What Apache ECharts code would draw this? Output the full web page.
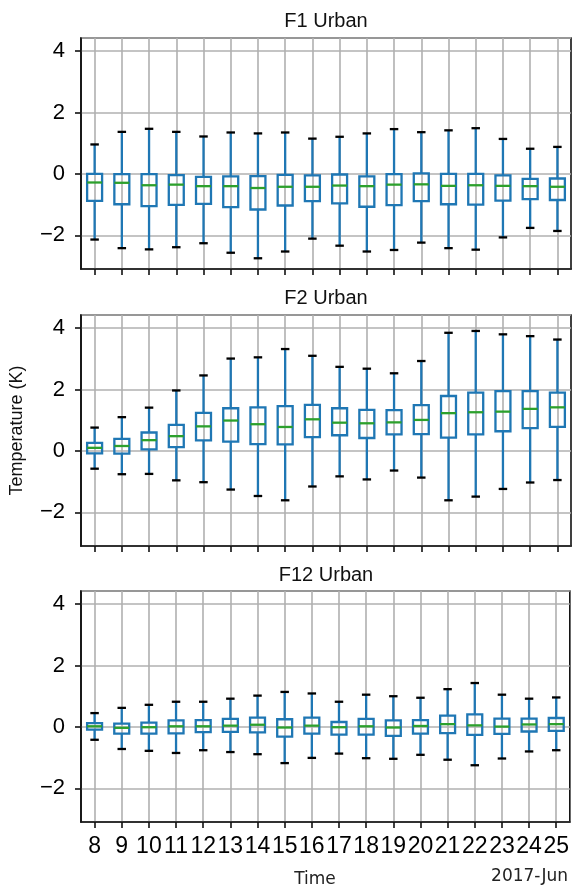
<!DOCTYPE html>
<html>
<head>
<meta charset="utf-8">
<script src="https://cdn.jsdelivr.net/npm/echarts@6/dist/echarts.min.js"></script>
<style>
  html, body { margin: 0; padding: 0; background: #fff; }
  #chart { width: 572px; height: 889px; }
</style>
</head>
<body>
<div id="chart"></div>
<script>
// Hours of the day (2017-Jun)
const hours = ['8', '9', '10', '11', '12', '13', '14', '15', '16', '17', '18', '19', '20', '21', '22', '23', '24', '25'];
const yTicks = [-2, 0, 2, 4];

// F1 Urban: whisker ends, quartiles and medians (K)
const f1Min    = [-2.14, -2.42, -2.46, -2.39, -2.26, -2.57, -2.75, -2.53, -2.11, -2.34, -2.53, -2.48, -2.24, -2.42, -2.47, -2.07, -1.76, -1.86];
const f1Q1     = [-0.88, -0.99, -1.05, -1.01, -0.98, -1.08, -1.16, -1.03, -0.89, -0.96, -1.07, -1.02, -0.89, -0.99, -1.00, -0.87, -0.82, -0.85];
const f1Median = [-0.28, -0.29, -0.37, -0.35, -0.40, -0.40, -0.46, -0.42, -0.42, -0.38, -0.40, -0.35, -0.34, -0.39, -0.37, -0.39, -0.40, -0.42];
const f1Q3     = [ 0.00, -0.01, -0.01, -0.04, -0.10, -0.08, -0.07, -0.03, -0.05, -0.02, -0.08, -0.01,  0.02,  0.00,  0.00, -0.05, -0.16, -0.15];
const f1Max    = [ 0.96,  1.37,  1.47,  1.37,  1.22,  1.35,  1.32,  1.35,  1.15,  1.21,  1.32,  1.46,  1.36,  1.42,  1.49,  1.14,  0.82,  0.88];

// F2 Urban
const f2Min    = [-0.58, -0.76, -0.75, -0.96, -1.02, -1.26, -1.47, -1.61, -1.16, -0.83, -0.93, -0.64, -0.87, -1.61, -1.49, -1.24, -1.03, -0.95];
const f2Q1     = [-0.08, -0.09,  0.05,  0.12,  0.34,  0.30,  0.22,  0.21,  0.45,  0.51,  0.42,  0.54,  0.55,  0.43,  0.54,  0.64,  0.74,  0.78];
const f2Median = [ 0.10,  0.16,  0.35,  0.48,  0.80,  0.99,  0.87,  0.78,  1.03,  0.92,  0.90,  0.93,  1.01,  1.23,  1.26,  1.28,  1.37,  1.42];
const f2Q3     = [ 0.26,  0.39,  0.60,  0.85,  1.24,  1.39,  1.42,  1.46,  1.50,  1.39,  1.34,  1.33,  1.49,  1.79,  1.90,  1.95,  1.95,  1.90];
const f2Max    = [ 0.76,  1.10,  1.41,  1.97,  2.46,  3.01,  3.05,  3.32,  3.10,  2.74,  2.68,  2.53,  2.93,  3.85,  3.91,  3.80,  3.74,  3.63];

// F12 Urban
const f12Min    = [-0.42, -0.72, -0.78, -0.85, -0.76, -0.82, -0.89, -1.18, -1.01, -0.87, -1.02, -1.04, -0.91, -1.07, -1.25, -1.03, -0.80, -0.76];
const f12Q1     = [-0.09, -0.22, -0.22, -0.21, -0.17, -0.16, -0.18, -0.32, -0.22, -0.25, -0.25, -0.29, -0.22, -0.20, -0.26, -0.23, -0.15, -0.13];
const f12Median = [ 0.02, -0.03, -0.01,  0.02,  0.02,  0.04,  0.07, -0.02,  0.04, -0.01,  0.02, -0.02,  0.03,  0.09,  0.05,  0.01,  0.08,  0.09];
const f12Q3     = [ 0.12,  0.11,  0.14,  0.21,  0.22,  0.26,  0.30,  0.25,  0.30,  0.16,  0.26,  0.21,  0.22,  0.37,  0.41,  0.27,  0.27,  0.29];
const f12Max    = [ 0.45,  0.62,  0.72,  0.82,  0.82,  0.92,  1.02,  1.14,  1.09,  0.82,  1.05,  1.00,  0.95,  1.23,  1.43,  1.05,  0.92,  0.96];

const panels = [
  { title: 'F1 Urban',  min: f1Min,  q1: f1Q1,  med: f1Median,  q3: f1Q3,  max: f1Max,  top: 38,  titleY: 21 },
  { title: 'F2 Urban',  min: f2Min,  q1: f2Q1,  med: f2Median,  q3: f2Q3,  max: f2Max,  top: 315, titleY: 298 },
  { title: 'F12 Urban', min: f12Min, q1: f12Q1, med: f12Median, q3: f12Q3, max: f12Max, top: 591, titleY: 575 }
];

const BLUE = '#1f77b4';
const GREEN = '#2ca02c';
const GRIDC = '#b0b0b0';
const SANS = 'Liberation Sans';
const DEJAVU = 'DejaVu Sans';

function fmtTick(v) {
  if (yTicks.indexOf(v) < 0) return '';
  return v < 0 ? '\u2212' + Math.abs(v) : String(v);
}

// One box: whiskers, caps, box outline and median line
function renderBox(params, api) {
  const i = api.value(0);
  const lo = api.coord([i, api.value(1)]);
  const q1 = api.coord([i, api.value(2)]);
  const md = api.coord([i, api.value(3)]);
  const q3 = api.coord([i, api.value(4)]);
  const hi = api.coord([i, api.value(5)]);
  const band = api.size([1, 0])[0];
  const bw = band * 0.55;
  const cw = bw / 2;
  const cx = lo[0];
  const lw = 2.3;
  return {
    type: 'group',
    children: [
      { type: 'line', shape: { x1: cx, y1: hi[1], x2: cx, y2: q3[1] }, style: { stroke: BLUE, lineWidth: lw } },
      { type: 'line', shape: { x1: cx, y1: q1[1], x2: cx, y2: lo[1] }, style: { stroke: BLUE, lineWidth: lw } },
      { type: 'line', shape: { x1: cx - cw / 2 - 0.5, y1: hi[1], x2: cx + cw / 2 + 0.5, y2: hi[1] }, style: { stroke: '#000', lineWidth: lw } },
      { type: 'line', shape: { x1: cx - cw / 2 - 0.5, y1: lo[1], x2: cx + cw / 2 + 0.5, y2: lo[1] }, style: { stroke: '#000', lineWidth: lw } },
      { type: 'rect', shape: { x: cx - bw / 2, y: q3[1], width: bw, height: q1[1] - q3[1] }, style: { fill: 'none', stroke: BLUE, lineWidth: lw } },
      { type: 'line', shape: { x1: cx - bw / 2, y1: md[1], x2: cx + bw / 2, y2: md[1] }, style: { stroke: GREEN, lineWidth: lw } }
    ]
  };
}

const grids = [], xAxes = [], yAxes = [], series = [], graphics = [];
panels.forEach((p, k) => {
  const last = k === panels.length - 1;
  grids.push({ left: 81, right: 1, top: p.top, height: 231, show: true, borderColor: '#111', borderWidth: 1.6, backgroundColor: 'transparent' });
  xAxes.push({
    gridIndex: k, type: 'category', data: hours, boundaryGap: true,
    axisLine: { show: true, onZero: false, lineStyle: { color: '#111', width: 1.6 } },
    axisTick: { show: true, alignWithLabel: true, length: 6, lineStyle: { color: '#111', width: 1.6 } },
    axisLabel: { show: last, interval: 0, margin: 13, color: '#000', fontSize: 23, fontFamily: SANS },
    splitLine: { show: true, alignWithLabel: true, lineStyle: { color: GRIDC, width: 1.6 } }
  });
  yAxes.push({
    gridIndex: k, type: 'value', min: -3.1, max: 4.43, splitNumber: 4,
    name: k === 1 ? 'Temperature (K)' : '', nameLocation: 'middle', nameGap: 55,
    nameTextStyle: { color: '#111', fontSize: 18, fontFamily: SANS },
    axisLine: { show: true, lineStyle: { color: '#111', width: 1.6 } },
    axisTick: { show: true, length: 6, lineStyle: { color: '#111', width: 1.6 } },
    axisLabel: { margin: 16, color: '#000', fontSize: 22, fontFamily: SANS, formatter: fmtTick, showMinLabel: false, showMaxLabel: false },
    splitLine: { show: true, lineStyle: { color: GRIDC, width: 1.6 } }
  });
  series.push({
    type: 'custom', xAxisIndex: k, yAxisIndex: k, renderItem: renderBox,
    encode: { x: 0, y: [1, 2, 3, 4, 5] },
    data: hours.map((h, i) => [i, p.min[i], p.q1[i], p.med[i], p.q3[i], p.max[i]])
  });
  graphics.push({ type: 'text', x: 326, y: p.titleY, style: { text: p.title, font: '20px ' + SANS, fill: '#111', align: 'center', verticalAlign: 'middle' } });
});
graphics.push({ type: 'text', x: 315, y: 880, style: { text: 'Time', font: '17px ' + DEJAVU, fill: '#222', align: 'center', verticalAlign: 'middle' } });
graphics.push({ type: 'text', x: 568, y: 877, style: { text: '2017-Jun', font: '17px ' + DEJAVU, fill: '#222', align: 'right', verticalAlign: 'middle' } });

const chart = echarts.init(document.getElementById('chart'), null, { renderer: 'canvas' });
chart.setOption({
  animation: false,
  backgroundColor: '#fff',
  grid: grids,
  xAxis: xAxes,
  yAxis: yAxes,
  series: series,
  graphic: graphics
});
</script>
</body>
</html>
